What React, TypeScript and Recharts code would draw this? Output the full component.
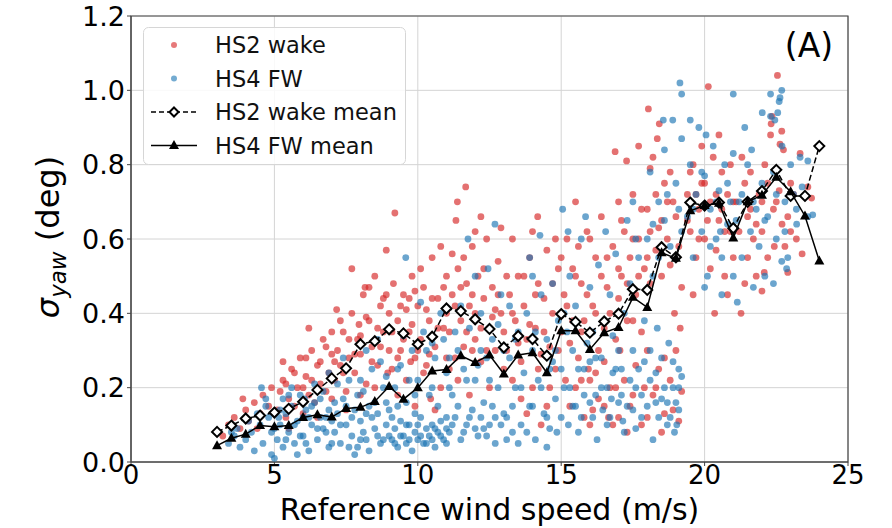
import React from 'react';
import {
  ScatterChart,
  Scatter,
  XAxis,
  YAxis,
  CartesianGrid,
  Legend,
  ReferenceArea
} from 'recharts';

const FONT = '"DejaVu Sans", Verdana, sans-serif';
const RED = '#d62728';
const BLUE = '#1f77b4';

const xTicks = [0, 5, 10, 15, 20, 25];
const yTicks = [0, 0.2, 0.4, 0.6, 0.8, 1.0, 1.2];

// bin centres of the two mean curves
const meanSpeeds = [
  3, 3.5, 4, 4.5, 5, 5.5, 6, 6.5, 7, 7.5, 8, 8.5, 9, 9.5, 10, 10.5, 11, 11.5, 12, 12.5, 13, 13.5,
  14, 14.5, 15, 15.5, 16, 16.5, 17, 17.5, 18, 18.5, 19, 19.5, 20, 20.5, 21, 21.5, 22, 22.5, 23, 23.5, 24
];
const hs2WakeMean = [
  0.081, 0.098, 0.117, 0.125, 0.133, 0.143, 0.162, 0.194, 0.225, 0.252, 0.317, 0.325, 0.357, 0.346,
  0.317, 0.337, 0.413, 0.406, 0.384, 0.358, 0.308, 0.339, 0.331, 0.286, 0.398, 0.377, 0.348, 0.378,
  0.399, 0.465, 0.463, 0.578, 0.551, 0.698, 0.69, 0.698, 0.629, 0.7, 0.729, 0.786, 0.716, 0.716, 0.85
];
const hs4FwMean = [
  0.044, 0.064, 0.075, 0.098, 0.095, 0.098, 0.12, 0.127, 0.121, 0.144, 0.147, 0.163, 0.203, 0.169,
  0.2, 0.245, 0.249, 0.286, 0.268, 0.288, 0.237, 0.288, 0.294, 0.24, 0.353, 0.353, 0.303, 0.348,
  0.362, 0.443, 0.416, 0.563, 0.548, 0.676, 0.69, 0.696, 0.603, 0.7, 0.718, 0.766, 0.727, 0.662, 0.541
];

// [wind speed, sigma_yaw]
const hs2WakePoints: [number, number][] = [
  [3.2, 0.07], [3.4, 0.1], [3.6, 0.12], [3.8, 0.09], [3.9, 0.17], [4.0, 0.14], [4.1, 0.11], [4.3, 0.16],
  [4.4, 0.09], [4.5, 0.13], [4.6, 0.18], [4.8, 0.15], [4.9, 0.2],
  [5.1, 0.14], [5.2, 0.19], [5.3, 0.22], [5.3, 0.27], [5.4, 0.12], [5.5, 0.17], [5.5, 0.09], [5.6, 0.25],
  [5.7, 0.15], [5.8, 0.2], [5.9, 0.28], [6.0, 0.13], [6.0, 0.2], [6.1, 0.23], [6.2, 0.18], [6.2, 0.36],
  [6.3, 0.3], [6.4, 0.16], [6.5, 0.26], [6.5, 0.12], [6.6, 0.21], [6.7, 0.33], [6.8, 0.19], [6.9, 0.24],
  [7.0, 0.29], [7.0, 0.17],
  [7.1, 0.22], [7.17, 0.41], [7.2, 0.3], [7.3, 0.26], [7.3, 0.38], [7.4, 0.35], [7.5, 0.19], [7.5, 0.14],
  [7.6, 0.28], [7.7, 0.4], [7.7, 0.52], [7.8, 0.24], [7.9, 0.33], [7.95, 0.37], [8.0, 0.29], [8.0, 0.18],
  [8.1, 0.45], [8.16, 0.47], [8.2, 0.21], [8.3, 0.38], [8.3, 0.47], [8.4, 0.31], [8.5, 0.5], [8.5, 0.2],
  [8.6, 0.26], [8.7, 0.42], [8.8, 0.35], [8.8, 0.44], [8.9, 0.57], [8.95, 0.24], [9.0, 0.3], [9.0, 0.4],
  [9.1, 0.25], [9.15, 0.48], [9.2, 0.67], [9.3, 0.38], [9.3, 0.18], [9.4, 0.3], [9.5, 0.45], [9.6, 0.22],
  [9.6, 0.41], [9.7, 0.35], [9.75, 0.27], [9.8, 0.5], [9.9, 0.28], [9.9, 0.15], [10.0, 0.42], [10.1, 0.33],
  [10.2, 0.47], [10.2, 0.24], [10.3, 0.26], [10.4, 0.38], [10.45, 0.17], [10.5, 0.55], [10.6, 0.31],
  [10.6, 0.14], [10.7, 0.44], [10.8, 0.2], [10.8, 0.58], [10.9, 0.36], [11.0, 0.5], [11.0, 0.28],
  [11.1, 0.35], [11.2, 0.45], [11.2, 0.56], [11.3, 0.28], [11.33, 0.65], [11.38, 0.7], [11.4, 0.52],
  [11.4, 0.22], [11.5, 0.38], [11.6, 0.31], [11.67, 0.74], [11.7, 0.48], [11.8, 0.42], [11.8, 0.18],
  [11.9, 0.58], [11.9, 0.3], [12.0, 0.33], [12.0, 0.62], [12.1, 0.5], [12.2, 0.27], [12.2, 0.66],
  [12.3, 0.44], [12.4, 0.6], [12.5, 0.36], [12.5, 0.2], [12.6, 0.47], [12.7, 0.3], [12.7, 0.41],
  [12.8, 0.54], [12.9, 0.4], [12.9, 0.63], [13.0, 0.25],
  [13.1, 0.3], [13.2, 0.45], [13.3, 0.22], [13.3, 0.6], [13.4, 0.38], [13.5, 0.5], [13.6, 0.27],
  [13.6, 0.17], [13.7, 0.42], [13.8, 0.33], [13.8, 0.13], [13.9, 0.55], [14.0, 0.2], [14.0, 0.62],
  [14.1, 0.36], [14.18, 0.66], [14.2, 0.48], [14.3, 0.29], [14.3, 0.1], [14.4, 0.44], [14.5, 0.15],
  [14.5, 0.57], [14.6, 0.31], [14.6, 0.2], [14.7, 0.4], [14.8, 0.25], [14.8, 0.6], [14.9, 0.52], [15.0, 0.35],
  [15.1, 0.45], [15.15, 0.22], [15.2, 0.6], [15.3, 0.32], [15.3, 0.15], [15.4, 0.52], [15.5, 0.7],
  [15.6, 0.28], [15.6, 0.58], [15.7, 0.48], [15.8, 0.38], [15.8, 0.12], [15.9, 0.62], [15.95, 0.25],
  [16.0, 0.22], [16.1, 0.42], [16.1, 0.14], [16.2, 0.55], [16.3, 0.3], [16.3, 0.17], [16.4, 0.66],
  [16.5, 0.36], [16.5, 0.27], [16.6, 0.47], [16.65, 0.12], [16.7, 0.2], [16.8, 0.58], [16.8, 0.1],
  [16.88, 0.835], [16.9, 0.33], [16.9, 0.2], [17.0, 0.44], [17.0, 0.7],
  [17.05, 0.3], [17.1, 0.5], [17.2, 0.62], [17.2, 0.22], [17.28, 0.81], [17.3, 0.38], [17.3, 0.08],
  [17.4, 0.55], [17.4, 0.15], [17.5, 0.72], [17.6, 0.45], [17.6, 0.26], [17.7, 0.6], [17.7, 0.85],
  [17.8, 0.35], [17.8, 0.1], [17.9, 0.52], [17.9, 0.2], [18.0, 0.68], [18.0, 0.3], [18.04, 0.95],
  [18.1, 0.48], [18.1, 0.79], [18.2, 0.82], [18.2, 0.18], [18.3, 0.57], [18.35, 0.87], [18.4, 0.63],
  [18.4, 0.25], [18.42, 0.91], [18.5, 0.5], [18.5, 0.08], [18.6, 0.75], [18.6, 0.13], [18.7, 0.6],
  [18.8, 0.53], [18.8, 0.22], [18.9, 0.7], [18.95, 0.4], [19.0, 0.66], [19.0, 0.3], [19.1, 0.58],
  [19.1, 0.11], [19.15, 0.36], [19.2, 0.47], [19.2, 0.19],
  [19.4, 0.72], [19.5, 0.62], [19.6, 0.8], [19.6, 0.45], [19.7, 0.55], [19.8, 0.68], [19.9, 0.75],
  [19.9, 0.85], [20.0, 0.6], [20.13, 1.01], [20.2, 0.7], [20.2, 0.52], [20.3, 0.82], [20.35, 0.4],
  [20.4, 0.57], [20.5, 0.65], [20.5, 0.88], [20.6, 0.78], [20.7, 0.5], [20.8, 0.72], [20.8, 0.45],
  [20.9, 0.62], [21.0, 0.7], [21.0, 0.55],
  [21.2, 0.62], [21.27, 0.4], [21.3, 0.82], [21.4, 0.75], [21.4, 0.48], [21.5, 0.55], [21.6, 0.68],
  [21.7, 0.6], [21.8, 0.5], [21.9, 0.72], [22.0, 0.62], [22.0, 0.46], [22.08, 0.51], [22.1, 0.8],
  [22.2, 0.55], [22.3, 0.88], [22.32, 0.91], [22.35, 0.93], [22.4, 0.68], [22.43, 0.58], [22.54, 1.04],
  [22.6, 0.73], [22.63, 0.855], [22.69, 0.89], [22.7, 0.64], [22.75, 0.84], [22.8, 0.58], [22.9, 0.51],
  [23.0, 0.75], [23.1, 0.72], [23.2, 0.6], [23.33, 0.83], [23.4, 0.56], [23.6, 0.74], [23.73, 0.71],
  [24.0, 0.85],
  // denser core of the cloud
  [5.4, 0.21], [5.7, 0.24], [6.1, 0.28], [6.3, 0.22], [6.6, 0.27], [6.8, 0.31], [7.0, 0.35], [7.1, 0.27],
  [7.4, 0.24], [7.6, 0.33], [7.8, 0.29], [8.0, 0.34], [8.2, 0.39], [8.4, 0.27], [8.6, 0.36], [8.7, 0.31],
  [8.9, 0.45], [9.1, 0.35], [9.3, 0.28], [9.4, 0.42], [9.5, 0.33], [9.7, 0.44], [9.8, 0.37], [9.9, 0.46],
  [10.0, 0.3], [10.1, 0.52], [10.3, 0.41], [10.4, 0.29], [10.5, 0.44], [10.7, 0.36], [10.9, 0.47],
  [11.0, 0.4], [11.1, 0.25], [11.3, 0.42], [11.5, 0.47], [11.6, 0.55], [11.7, 0.35], [11.9, 0.45],
  [12.0, 0.4], [12.2, 0.36], [12.3, 0.52], [12.4, 0.3], [12.6, 0.39], [12.8, 0.45], [13.0, 0.35],
  [13.1, 0.5], [13.3, 0.4], [13.5, 0.32], [13.7, 0.5], [13.9, 0.37], [14.1, 0.45], [14.2, 0.25],
  [14.4, 0.35], [14.7, 0.48], [14.9, 0.3], [15.0, 0.55], [15.2, 0.42], [15.4, 0.38], [15.5, 0.5],
  [15.7, 0.35], [15.9, 0.45], [16.0, 0.6], [16.2, 0.4], [16.4, 0.5], [16.6, 0.55], [16.7, 0.4],
  [17.0, 0.52], [17.1, 0.65], [17.3, 0.48], [17.5, 0.6], [17.5, 0.38], [17.7, 0.5], [17.8, 0.68],
  [18.0, 0.55], [18.1, 0.62], [18.3, 0.72], [18.5, 0.65], [18.7, 0.7], [18.8, 0.78], [19.0, 0.55],
  [19.4, 0.65], [19.5, 0.78], [19.7, 0.72], [19.8, 0.6], [20.0, 0.75], [20.1, 0.65], [20.4, 0.72],
  [20.6, 0.68], [20.7, 0.62], [20.9, 0.8], [21.1, 0.7], [21.5, 0.66], [21.6, 0.78], [21.8, 0.64],
  [22.0, 0.7], [22.2, 0.75], [22.5, 0.7], [22.9, 0.66], [23.0, 0.62],
  [15.5, 0.2], [16.0, 0.1], [16.5, 0.15], [17.0, 0.12], [17.5, 0.18], [18.0, 0.12], [18.3, 0.2],
  [18.6, 0.28], [18.9, 0.14], [15.7, 0.22], [16.2, 0.24]
];

const hs4FwPoints: [number, number][] = [
  [3.4, 0.05], [3.5, 0.08], [3.6, 0.07], [3.7, 0.09], [3.8, 0.04], [4.0, 0.06], [4.1, 0.11], [4.2, 0.08],
  [4.3, 0.03], [4.4, 0.13], [4.5, 0.1], [4.55, 0.2], [4.6, 0.05], [4.7, 0.15], [4.7, 0.17], [4.8, 0.12],
  [4.9, 0.02], [4.9, 0.08], [5.0, 0.01],
  [5.1, 0.06], [5.15, 0.12], [5.2, 0.1], [5.3, 0.04], [5.3, 0.17], [5.4, 0.13], [5.5, 0.08], [5.6, 0.15],
  [5.6, 0.2], [5.7, 0.05], [5.8, 0.11], [5.8, 0.02], [5.9, 0.18], [6.0, 0.07], [6.05, 0.17], [6.1, 0.14],
  [6.2, 0.03], [6.2, 0.12], [6.3, 0.1], [6.4, 0.16], [6.4, 0.21], [6.5, 0.06], [6.6, 0.12], [6.7, 0.19],
  [6.7, 0.09], [6.8, 0.08], [6.9, 0.14], [6.9, 0.24], [7.0, 0.05], [7.0, 0.11],
  [7.1, 0.08], [7.2, 0.13], [7.2, 0.21], [7.3, 0.05], [7.4, 0.17], [7.4, 0.28], [7.5, 0.1], [7.6, 0.22],
  [7.6, 0.04], [7.7, 0.07], [7.8, 0.14], [7.8, 0.02], [7.9, 0.04], [8.0, 0.11], [8.1, 0.19], [8.1, 0.08],
  [8.2, 0.06], [8.2, 0.3], [8.3, 0.15], [8.3, 0.03], [8.4, 0.25], [8.4, 0.12], [8.5, 0.09], [8.6, 0.13],
  [8.6, 0.33], [8.7, 0.05], [8.7, 0.27], [8.8, 0.2], [8.9, 0.1], [8.9, 0.16], [9.0, 0.07], [9.0, 0.14],
  [9.1, 0.06], [9.2, 0.09], [9.2, 0.2], [9.3, 0.04], [9.4, 0.11], [9.4, 0.26], [9.5, 0.07], [9.5, 0.34],
  [9.58, 0.55], [9.6, 0.05], [9.6, 0.16], [9.7, 0.1], [9.8, 0.03], [9.8, 0.3], [9.9, 0.08], [9.9, 0.13],
  [10.0, 0.06], [10.0, 0.22], [10.1, 0.12], [10.1, 0.43], [10.2, 0.05], [10.2, 0.35], [10.3, 0.09],
  [10.3, 0.3], [10.4, 0.07], [10.4, 0.18], [10.5, 0.1], [10.6, 0.04], [10.6, 0.28], [10.7, 0.08],
  [10.7, 0.15], [10.8, 0.11], [10.8, 0.4], [10.9, 0.06], [10.9, 0.33], [11.0, 0.09], [11.0, 0.24], [11.0, 0.12],
  [11.1, 0.08], [11.2, 0.18], [11.3, 0.12], [11.3, 0.35], [11.4, 0.3], [11.5, 0.06], [11.5, 0.42],
  [11.6, 0.25], [11.7, 0.1], [11.75, 0.6], [11.8, 0.36], [11.9, 0.14], [12.0, 0.22], [12.0, 0.5],
  [12.1, 0.07], [12.1, 0.26], [12.2, 0.4], [12.3, 0.16], [12.3, 0.09], [12.4, 0.28], [12.45, 0.52],
  [12.5, 0.1], [12.6, 0.33], [12.6, 0.15], [12.69, 0.64], [12.7, 0.05], [12.8, 0.2], [12.8, 0.37],
  [12.9, 0.45], [13.0, 0.13],
  [13.1, 0.12], [13.2, 0.28], [13.2, 0.42], [13.3, 0.08], [13.4, 0.2], [13.5, 0.35], [13.5, 0.05],
  [13.6, 0.1], [13.7, 0.24], [13.8, 0.4], [13.9, 0.15], [13.9, 0.55], [14.0, 0.3], [14.0, 0.5],
  [14.1, 0.06], [14.2, 0.22], [14.26, 0.61], [14.3, 0.45], [14.4, 0.13], [14.5, 0.33], [14.5, 0.04],
  [14.6, 0.09], [14.7, 0.27], [14.7, 0.48], [14.8, 0.17], [14.85, 0.08], [14.9, 0.38], [15.0, 0.12],
  [15.05, 0.68], [15.1, 0.2], [15.2, 0.35], [15.24, 0.62], [15.25, 0.1], [15.3, 0.5], [15.4, 0.15],
  [15.5, 0.42], [15.6, 0.25], [15.6, 0.08], [15.7, 0.6], [15.8, 0.18], [15.85, 0.66], [15.9, 0.32],
  [16.0, 0.47], [16.0, 0.27], [16.1, 0.12], [16.2, 0.28], [16.25, 0.06], [16.3, 0.53], [16.4, 0.2],
  [16.45, 0.14], [16.5, 0.38], [16.55, 0.62], [16.6, 0.1], [16.7, 0.45], [16.75, 0.17], [16.8, 0.24],
  [16.8, 0.34], [16.9, 0.56], [17.0, 0.16],
  [17.1, 0.25], [17.15, 0.11], [17.2, 0.4], [17.3, 0.15], [17.3, 0.65], [17.4, 0.48], [17.5, 0.3],
  [17.5, 0.7], [17.6, 0.2], [17.6, 0.09], [17.7, 0.55], [17.8, 0.12], [17.9, 0.38], [17.9, 0.27],
  [18.0, 0.6], [18.1, 0.22], [18.1, 0.78], [18.2, 0.5], [18.2, 0.06], [18.3, 0.16], [18.35, 0.36],
  [18.4, 0.7], [18.5, 0.28], [18.5, 0.17], [18.56, 0.92], [18.6, 0.65], [18.6, 0.84], [18.7, 0.1],
  [18.75, 0.32], [18.8, 0.58], [18.8, 0.12], [18.89, 0.92], [18.9, 0.2], [18.95, 0.08], [19.0, 0.75],
  [19.0, 0.16], [19.03, 0.1], [19.1, 0.14], [19.1, 0.25], [19.14, 1.02], [19.2, 0.62], [19.2, 0.99],
  [19.2, 0.23], [19.2, 0.87],
  [19.4, 0.66], [19.5, 0.8], [19.5, 0.92], [19.6, 0.55], [19.7, 0.72], [19.8, 0.9], [19.9, 0.62],
  [20.0, 0.77], [20.0, 0.47], [20.05, 0.88], [20.1, 0.5], [20.2, 0.68], [20.3, 0.85], [20.4, 0.6],
  [20.5, 0.73], [20.55, 0.62], [20.6, 0.55], [20.6, 0.45], [20.7, 0.8], [20.8, 0.64], [20.9, 0.7],
  [21.0, 0.5], [21.0, 0.83], [21.0, 0.99], [21.14, 0.43],
  [21.2, 0.7], [21.3, 0.55], [21.4, 0.9], [21.5, 0.8], [21.6, 0.62], [21.64, 0.84], [21.7, 0.47],
  [21.8, 0.68], [21.9, 0.58], [22.0, 0.75], [22.01, 0.94], [22.1, 0.5], [22.2, 0.66], [22.3, 0.93],
  [22.3, 0.99], [22.4, 0.78], [22.4, 0.48], [22.45, 0.92], [22.5, 0.6], [22.55, 0.94], [22.6, 0.97],
  [22.63, 0.98], [22.69, 1.0], [22.69, 0.54], [22.7, 0.85], [22.8, 0.7], [22.86, 0.52], [22.9, 0.55],
  [23.0, 0.8], [23.2, 0.68], [23.21, 0.64], [23.33, 0.82], [23.4, 0.74], [23.6, 0.66], [23.6, 0.81],
  [23.77, 0.665],
  // denser core of the cloud
  [5.0, 0.09], [5.2, 0.14], [5.4, 0.06], [5.5, 0.18], [5.7, 0.1], [5.9, 0.07], [6.0, 0.12], [6.1, 0.05],
  [6.3, 0.15], [6.5, 0.09], [6.6, 0.17], [6.8, 0.12], [6.9, 0.04], [7.1, 0.16], [7.3, 0.1], [7.5, 0.15],
  [7.7, 0.12], [7.9, 0.18], [8.0, 0.06], [8.2, 0.13], [8.5, 0.16], [8.6, 0.07], [8.8, 0.06], [8.9, 0.23],
  [9.1, 0.12], [9.2, 0.05], [9.3, 0.15], [9.4, 0.07], [9.6, 0.1], [9.7, 0.06], [9.7, 0.22], [9.9, 0.18],
  [10.0, 0.1], [10.1, 0.07], [10.3, 0.05], [10.5, 0.06], [10.5, 0.2], [10.6, 0.09], [10.8, 0.07],
  [11.0, 0.05], [11.1, 0.2], [11.2, 0.1], [11.4, 0.15], [11.6, 0.08], [11.8, 0.12], [12.0, 0.09],
  [12.2, 0.12], [12.4, 0.07], [12.5, 0.22], [12.7, 0.12], [12.9, 0.1], [13.0, 0.3], [13.1, 0.06],
  [13.3, 0.15], [13.4, 0.33], [13.6, 0.2], [13.8, 0.08], [14.0, 0.15], [14.1, 0.35], [14.3, 0.2],
  [14.5, 0.12], [14.6, 0.25], [14.8, 0.3], [15.0, 0.25], [15.1, 0.4], [15.3, 0.2], [15.4, 0.3],
  [15.5, 0.15], [15.7, 0.12], [15.8, 0.25], [16.0, 0.16], [16.1, 0.35], [16.2, 0.18], [16.4, 0.28],
  [16.6, 0.2], [16.7, 0.12], [16.9, 0.25], [17.0, 0.3], [17.1, 0.18], [17.2, 0.08], [17.4, 0.22],
  [17.5, 0.14], [17.7, 0.25], [17.8, 0.18], [18.0, 0.15], [18.1, 0.3], [18.3, 0.24], [18.4, 0.12],
  [18.6, 0.2], [18.7, 0.16], [18.9, 0.27], [19.1, 0.2], [17.6, 0.6], [18.2, 0.64], [18.4, 0.55],
  [18.7, 0.72], [19.0, 0.55], [19.1, 0.68], [19.6, 0.68], [19.9, 0.78], [20.2, 0.58], [20.4, 0.7],
  [20.8, 0.75], [21.1, 0.65], [21.3, 0.72], [21.7, 0.7], [22.1, 0.65], [22.5, 0.72], [22.8, 0.62],
  [23.1, 0.72], [10.5, 0.32], [11.1, 0.28], [11.7, 0.22], [12.2, 0.3], [9.3, 0.25], [8.0, 0.22]
];

const toXY = (pts: [number, number][]) => pts.map(([x, y]) => ({ x, y }));
const hs2Data = toXY(hs2WakePoints);
const hs4Data = toXY(hs4FwPoints);
const hs2MeanData = meanSpeeds.map((x, i) => ({ x, y: hs2WakeMean[i] }));
const hs4MeanData = meanSpeeds.map((x, i) => ({ x, y: hs4FwMean[i] }));

const dot = (color: string) => (props: any) => (
  <circle cx={props.cx} cy={props.cy} r={3.4} fill={color} fillOpacity={0.66} />
);

const diamondPath = (cx: number, cy: number, r: number) =>
  `M${cx},${cy - r} L${cx + r},${cy} L${cx},${cy + r} L${cx - r},${cy} Z`;

const Diamond = (props: any) => (
  <path d={diamondPath(props.cx, props.cy, 5)} fill="#fff" stroke="#000" strokeWidth={2} />
);

const trianglePath = (cx: number, cy: number) =>
  `M${cx},${cy - 5.5} L${cx + 5},${cy + 3.5} L${cx - 5},${cy + 3.5} Z`;

const Triangle = (props: any) => <path d={trianglePath(props.cx, props.cy)} fill="#000" />;

const YAxisTitle = () => (
  <text
    transform="translate(59,237) rotate(-90)"
    textAnchor="middle"
    fontFamily={FONT}
    fontSize={32}
    fill="#000"
  >
    <tspan fontStyle="italic">σ</tspan>
    <tspan fontStyle="italic" fontSize={23} dy={7}>yaw</tspan>
    <tspan dy={-7}> (deg)</tspan>
  </text>
);

const legendRows = [
  { label: 'HS2 wake', kind: 'red' },
  { label: 'HS4 FW', kind: 'blue' },
  { label: 'HS2 wake mean', kind: 'diamond' },
  { label: 'HS4 FW mean', kind: 'triangle' }
];

const LegendBox = () => (
  <svg width={263} height={138} style={{ display: 'block' }}>
    <rect x={0.5} y={0.5} width={262} height={137} rx={5} fill="#fff" fillOpacity={0.85} stroke="#d6d6d6" />
    {legendRows.map((row, i) => {
      const cy = 18 + i * 33.5;
      let marker: React.ReactNode = null;
      if (row.kind === 'red' || row.kind === 'blue') {
        marker = <circle cx={31} cy={cy} r={3} fill={row.kind === 'red' ? RED : BLUE} fillOpacity={0.62} />;
      } else if (row.kind === 'diamond') {
        marker = (
          <g>
            <line x1={8} x2={54} y1={cy} y2={cy} stroke="#000" strokeWidth={1.5} strokeDasharray="5 3" />
            <path d={diamondPath(31, cy, 4.5)} fill="#fff" stroke="#000" strokeWidth={2} />
          </g>
        );
      } else {
        marker = (
          <g>
            <line x1={8} x2={54} y1={cy} y2={cy} stroke="#000" strokeWidth={1.5} />
            <path d={trianglePath(31, cy)} fill="#000" />
          </g>
        );
      }
      return (
        <g key={row.label}>
          {marker}
          <text x={72} y={cy + 8} fontFamily={FONT} fontSize={22.5} fill="#111">
            {row.label}
          </text>
        </g>
      );
    })}
  </svg>
);

const yTickStyle = { fontSize: 27, fill: '#000', fontFamily: FONT };
const xTickStyle = { fontSize: 26, fill: '#000', fontFamily: FONT };

export default function App() {
  return (
    <div style={{ position: 'absolute', left: 0, top: 0, width: 892, height: 528, background: '#fff' }}>
      <ScatterChart width={892} height={528} margin={{ top: 16, right: 44, bottom: 0, left: 0 }}>
        <CartesianGrid stroke="#d4d4d4" strokeWidth={1} />
        <XAxis
          type="number"
          dataKey="x"
          domain={[0, 25]}
          ticks={xTicks}
          allowDataOverflow
          height={66}
          tick={xTickStyle}
          tickSize={4}
          tickMargin={0}
          stroke="#444"
          label={{
            value: 'Reference wind speed (m/s)',
            position: 'insideBottom',
            offset: 8,
            fontSize: 30,
            fontFamily: FONT,
            fill: '#000'
          }}
        />
        <YAxis
          type="number"
          dataKey="y"
          domain={[0, 1.2]}
          ticks={yTicks}
          allowDataOverflow
          width={131}
          tick={yTickStyle}
          tickSize={4}
          tickMargin={2}
          tickFormatter={(v: number) => v.toFixed(1)}
          stroke="#444"
          label={<YAxisTitle />}
        />
        <ReferenceArea x1={0} x2={25} y1={0} y2={1.2} fill="none" stroke="#444" strokeWidth={1.2} />
        <Scatter name="HS2 wake" data={hs2Data} shape={dot(RED)} isAnimationActive={false} />
        <Scatter name="HS4 FW" data={hs4Data} shape={dot(BLUE)} isAnimationActive={false} />
        <Scatter
          name="HS2 wake mean"
          data={hs2MeanData}
          shape={Diamond}
          line={{ stroke: '#000', strokeWidth: 1.5, strokeDasharray: '6 3' }}
          isAnimationActive={false}
        />
        <Scatter
          name="HS4 FW mean"
          data={hs4MeanData}
          shape={Triangle}
          line={{ stroke: '#000', strokeWidth: 1.5 }}
          isAnimationActive={false}
        />
        <Legend
          layout="vertical"
          align="center"
          verticalAlign="middle"
          content={<LegendBox />}
          wrapperStyle={{ left: 143, top: 27, width: 263, height: 138 }}
        />
      </ScatterChart>
      <svg
        width={892}
        height={528}
        style={{ position: 'absolute', left: 0, top: 0, pointerEvents: 'none' }}
      >
        <text x={809} y={57} textAnchor="middle" fontFamily={FONT} fontSize={33} fill="#000">
          (A)
        </text>
      </svg>
    </div>
  );
}
